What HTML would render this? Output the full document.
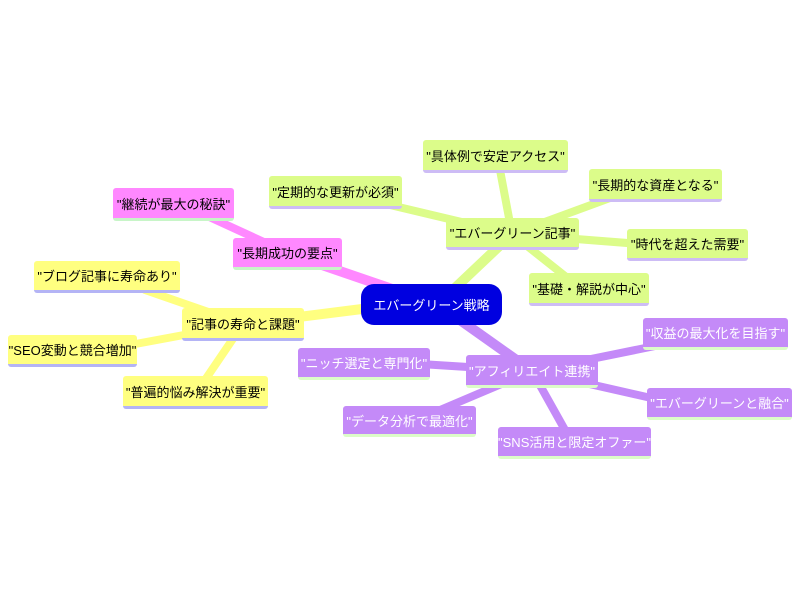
<!DOCTYPE html>
<html><head><meta charset="utf-8"><style>
body{margin:0;width:800px;height:600px;background:#fff;position:relative;overflow:hidden;font-family:"Liberation Sans","Noto Sans CJK JP",sans-serif;}
.n{position:absolute;box-sizing:border-box;display:flex;align-items:center;justify-content:center;font-size:13px;border-radius:3px;white-space:nowrap;}
.g{background:#dcfc8a;border-bottom:3px solid #cdbcf5;color:#000}
.p{background:#ff88ff;border-bottom:3px solid #c8f5c8;color:#000}
.y{background:#ffff80;border-bottom:3px solid #b4b4f5;color:#000}
.v{background:#c48af8;border-bottom:3px solid #dcfcc8;color:#fff}
svg{position:absolute;left:0;top:0}
</style></head><body>
<svg width="800" height="600">
<g stroke-linecap="round">
<g stroke="#dcfc8a">
<line x1="455" y1="288" x2="512" y2="234" stroke-width="10"/>
<line x1="512" y1="234" x2="500" y2="170" stroke-width="8"/>
<line x1="512" y1="234" x2="390" y2="205" stroke-width="8"/>
<line x1="512" y1="234" x2="610" y2="198" stroke-width="8"/>
<line x1="512" y1="234" x2="640" y2="244" stroke-width="8"/>
<line x1="512" y1="234" x2="570" y2="280" stroke-width="8"/>
</g>
<g stroke="#ff88ff">
<line x1="395" y1="290" x2="290" y2="254" stroke-width="10"/>
<line x1="290" y1="254" x2="205" y2="215" stroke-width="8"/>
</g>
<g stroke="#ffff80">
<line x1="370" y1="308" x2="243" y2="324" stroke-width="10"/>
<line x1="243" y1="324" x2="145" y2="290" stroke-width="8"/>
<line x1="243" y1="324" x2="130" y2="345" stroke-width="8"/>
<line x1="243" y1="324" x2="205" y2="380" stroke-width="8"/>
</g>
<g stroke="#c48af8">
<line x1="460" y1="320" x2="532" y2="371" stroke-width="10"/>
<line x1="532" y1="371" x2="660" y2="345" stroke-width="8"/>
<line x1="532" y1="371" x2="420" y2="364" stroke-width="8"/>
<line x1="532" y1="371" x2="660" y2="400" stroke-width="8"/>
<line x1="532" y1="371" x2="440" y2="410" stroke-width="8"/>
<line x1="532" y1="371" x2="565" y2="430" stroke-width="8"/>
</g>
</g>
</svg>
<div class="n" style="left:361px;top:284px;width:141px;height:41px;background:#0000e0;color:#fff;border-radius:13px;">エバーグリーン戦略</div>
<div class="n g" style="left:423px;top:140px;width:145px;height:33px">"具体例で安定アクセス"</div>
<div class="n g" style="left:269px;top:176px;width:133px;height:33px">"定期的な更新が必須"</div>
<div class="n g" style="left:589px;top:169px;width:133px;height:33px">"長期的な資産となる"</div>
<div class="n g" style="left:446px;top:218px;width:133px;height:32px">"エバーグリーン記事"</div>
<div class="n g" style="left:627px;top:229px;width:121px;height:32px">"時代を超えた需要"</div>
<div class="n g" style="left:529px;top:273px;width:120px;height:33px">"基礎・解説が中心"</div>
<div class="n p" style="left:113px;top:188px;width:121px;height:33px">"継続が最大の秘訣"</div>
<div class="n p" style="left:233px;top:238px;width:109px;height:32px">"長期成功の要点"</div>
<div class="n y" style="left:34px;top:261px;width:146px;height:32px">"ブログ記事に寿命あり"</div>
<div class="n y" style="left:182px;top:308px;width:122px;height:33px">"記事の寿命と課題"</div>
<div class="n y" style="left:8px;top:335px;width:129px;height:32px">"SEO変動と競合増加"</div>
<div class="n y" style="left:123px;top:376px;width:145px;height:33px">"普遍的悩み解決が重要"</div>
<div class="n v" style="left:643px;top:318px;width:145px;height:32px">"収益の最大化を目指す"</div>
<div class="n v" style="left:466px;top:355px;width:132px;height:33px">"アフィリエイト連携"</div>
<div class="n v" style="left:298px;top:348px;width:132px;height:32px">"ニッチ選定と専門化"</div>
<div class="n v" style="left:647px;top:388px;width:145px;height:32px">"エバーグリーンと融合"</div>
<div class="n v" style="left:343px;top:406px;width:133px;height:31px">"データ分析で最適化"</div>
<div class="n v" style="left:498px;top:427px;width:153px;height:32px">"SNS活用と限定オファー"</div>
</body></html>
